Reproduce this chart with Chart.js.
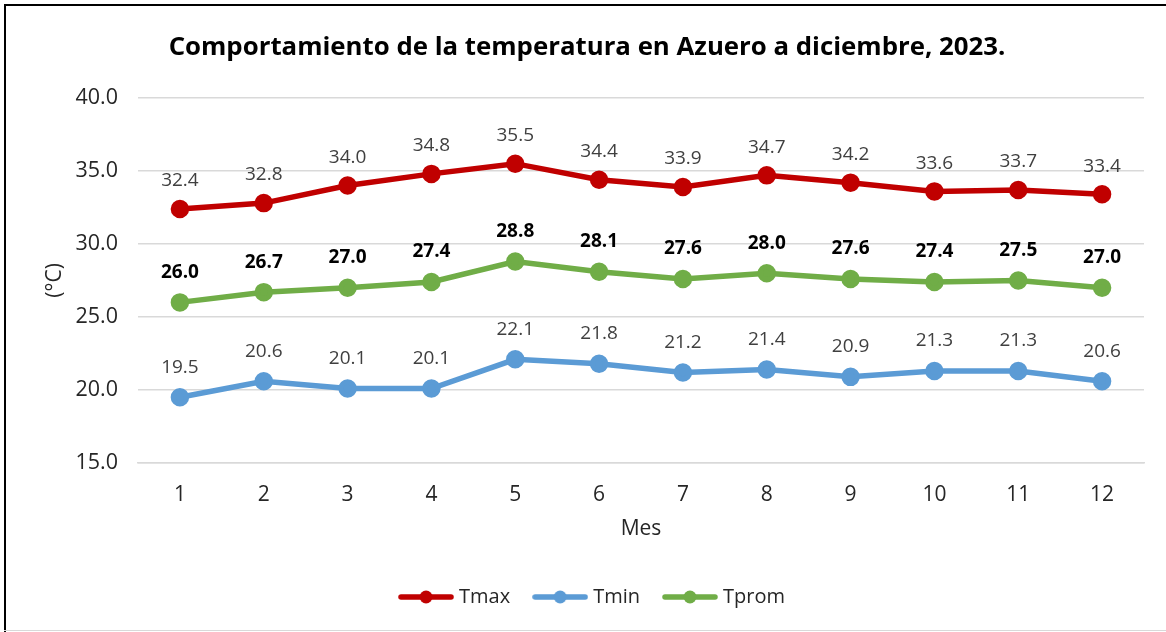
<!DOCTYPE html>
<html>
<head>
<meta charset="utf-8">
<script src="https://cdn.jsdelivr.net/npm/chart.js@4.4.1/dist/chart.umd.min.js"></script>
<style>
  html, body { margin: 0; padding: 0; background: #fff; }
  #wrap { position: relative; width: 1166px; height: 632px; }
</style>
</head>
<body>
<div id="wrap"><canvas id="c"></canvas></div>
<script>
// --- Datos -----------------------------------------------------------------
const meses = ['1', '2', '3', '4', '5', '6', '7', '8', '9', '10', '11', '12'];
const tmax  = [32.4, 32.8, 34.0, 34.8, 35.5, 34.4, 33.9, 34.7, 34.2, 33.6, 33.7, 33.4];
const tmin  = [19.5, 20.6, 20.1, 20.1, 22.1, 21.8, 21.2, 21.4, 20.9, 21.3, 21.3, 20.6];
const tprom = [26.0, 26.7, 27.0, 27.4, 28.8, 28.1, 27.6, 28.0, 27.6, 27.4, 27.5, 27.0];
const yTicks = [15, 20, 25, 30, 35, 40];

const FONT = '"Open Sans", Lato, sans-serif';
const ROJO = '#C00000', AZUL = '#5B9BD5', VERDE = '#70AD47';
const TEXTO = '#262626';

// Marcador de leyenda estilo Excel: línea con un punto al centro.
function marcador(color) {
  const c = document.createElement('canvas');
  c.width = 56; c.height = 14;
  const g = c.getContext('2d');
  g.strokeStyle = color; g.lineWidth = 5.5; g.lineCap = 'round';
  g.beginPath(); g.moveTo(3, 7); g.lineTo(53, 7); g.stroke();
  g.fillStyle = color;
  g.beginPath(); g.arc(28, 7, 6.5, 0, Math.PI * 2); g.fill();
  return c;
}

// Fondo blanco, marco del gráfico y leyenda un poco a la derecha (como en Excel).
const marco = {
  id: 'marco',
  afterLayout(chart) {
    chart.legend.left += 7;
    chart.legend.right += 7;
  },
  beforeDraw(chart) {
    const { ctx, width, height } = chart;
    ctx.save();
    ctx.fillStyle = '#fff';
    ctx.fillRect(0, 0, width, height);
    ctx.fillStyle = '#000';
    ctx.fillRect(4, 4, 2, height - 4);
    ctx.fillRect(4, 4, width - 4, 2);
    ctx.fillStyle = '#D9D9D9';
    ctx.fillRect(4, height - 2, width - 4, 1);
    ctx.restore();
  },
};

// Etiquetas de datos sobre cada punto.
const etiquetas = {
  id: 'etiquetas',
  afterDatasetsDraw(chart) {
    const { ctx } = chart;
    ctx.save();
    ctx.textAlign = 'center';
    ctx.textBaseline = 'middle';
    chart.data.datasets.forEach((ds, i) => {
      const meta = chart.getDatasetMeta(i);
      ctx.font = (ds.bold ? 'bold ' : '') + '19px ' + FONT;
      ctx.fillStyle = ds.bold ? '#000' : '#404040';
      meta.data.forEach((pt, j) => {
        ctx.fillText(ds.data[j].toFixed(1), pt.x, pt.y - ds.offsetLabel);
      });
    });
    ctx.restore();
  },
};

const serie = (label, data, color, extra) => Object.assign({
  label, data,
  borderColor: color, backgroundColor: color,
  pointBackgroundColor: color, pointBorderColor: color,
  borderWidth: 5.5, pointRadius: 6.5, pointHoverRadius: 6.5,
  tension: 0, pointStyle: 'circle', yAxisID: 'y',
}, extra);

new Chart(document.getElementById('c'), {
  type: 'line',
  data: {
    labels: meses,
    datasets: [
      serie('Tmax', tmax, ROJO, { offsetLabel: 28, legendImg: marcador(ROJO) }),
      serie('Tmin', tmin, AZUL, { offsetLabel: 30, legendImg: marcador(AZUL) }),
      serie('Tprom', tprom, VERDE, { offsetLabel: 30, bold: true, legendImg: marcador(VERDE) }),
    ],
  },
  options: {
    responsive: true, maintainAspectRatio: false, animation: false,
    layout: { padding: { left: 8, right: 0, top: 0, bottom: 15 } },
    plugins: {
      title: {
        display: true,
        text: 'Comportamiento de la temperatura en Azuero a diciembre, 2023.',
        color: '#000',
        font: { family: FONT, size: 25.8, weight: 'bold' },
        padding: { top: 32, bottom: 35 },
      },
      legend: {
        position: 'bottom',
        labels: {
          usePointStyle: true,
          pointStyleWidth: 46,
          boxHeight: 14,
          padding: 27,
          color: TEXTO,
          font: { family: FONT, size: 20 },
          generateLabels(chart) {
            return chart.data.datasets.map((ds, i) => ({
              text: ds.label, pointStyle: ds.legendImg, fontColor: TEXTO,
              datasetIndex: i, hidden: false, lineWidth: 0,
            }));
          },
        },
      },
      tooltip: { enabled: false },
    },
    scales: {
      x: {
        offset: true,
        afterFit(scale) { scale.height = 97; },
        grid: { display: false, drawTicks: false },
        border: { display: true, color: '#D9D9D9', width: 1.5 },
        ticks: { color: TEXTO, padding: 19, font: { family: FONT, size: 21 } },
        title: { display: true, text: 'Mes', color: TEXTO, padding: { top: 0, bottom: 18 }, font: { family: FONT, size: 21 } },
      },
      y: {
        min: 15, max: 40,
        afterBuildTicks(scale) { scale.ticks = yTicks.map((v) => ({ value: v })); },
        afterFit(scale) { scale.width = 130; },
        grid: { color: '#D9D9D9', lineWidth: 1.5, drawTicks: false },
        border: { display: false },
        ticks: { color: TEXTO, padding: 20, font: { family: FONT, size: 21.5 }, callback: (v) => Number(v).toFixed(1) },
        title: { display: true, text: '(°C)', color: TEXTO, padding: { top: 34, bottom: 0 }, font: { family: FONT, size: 21 } },
      },
      // Eje vacío a la derecha: solo reserva el margen derecho del área de trazado.
      margen: {
        position: 'right',
        afterFit(scale) { scale.width = 22; },
        grid: { display: false, drawTicks: false },
        border: { display: false },
        ticks: { display: false },
      },
    },
  },
  plugins: [marco, etiquetas],
});
</script>
</body>
</html>
